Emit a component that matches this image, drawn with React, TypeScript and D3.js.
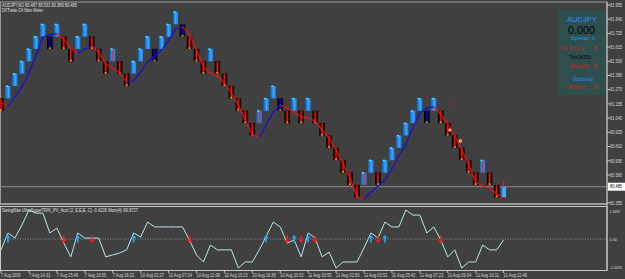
import React from "react";
import * as d3 from "d3";

const W = 625;
const H = 279;

const headerLine1 = "AUDJPY,M2  80.487 80.531 80.389 80.485";
const headerLine2 = "DXTrade C4 Nitro Meter";
const oscTitle = "SwingMan UltraSuperTRIX_PV_4col (2, E,E,E, C) -0.4226  Mom(4) 99.9727";

const priceTicks = ["81.955", "81.840", "81.725", "81.615", "81.500", "81.385", "81.270", "81.155", "81.040", "80.925", "80.810", "80.695", "80.580", "80.355"];
const currentPrice = 80.485;
const barHigh = 80.531;

const timeLabels = ["7 Aug 2009", "7 Aug 14:31", "7 Aug 15:46", "7 Aug 16:55", "7 Aug 19:22", "10 Aug 01:27", "10 Aug 07:24", "10 Aug 11:08", "10 Aug 15:23", "10 Aug 16:38", "10 Aug 20:52", "11 Aug 00:55", "11 Aug 02:50", "11 Aug 03:51", "11 Aug 05:42", "11 Aug 07:23", "11 Aug 09:04", "11 Aug 10:11", "11 Aug 11:46"];

// renko bricks: open / close prices and drawing kind
const brickOpen = [81.2, 81.2, 81.3, 81.4, 81.5, 81.6, 81.7, 81.7, 81.7, 81.7, 81.6, 81.6, 81.7, 81.7, 81.6, 81.5, 81.5, 81.5, 81.4, 81.4, 81.5, 81.6, 81.6, 81.6, 81.7, 81.8, 81.8, 81.7, 81.6, 81.5, 81.5, 81.5, 81.4, 81.3, 81.2, 81.1, 81.0, 81.0, 81.1, 81.2, 81.2, 81.1, 81.1, 81.1, 81.1, 81.1, 81.0, 80.9, 80.8, 80.7, 80.6, 80.5, 80.5, 80.6, 80.6, 80.6, 80.7, 80.8, 80.9, 81.0, 81.1, 81.1, 81.1, 81.1, 81.0, 80.9, 80.8, 80.7, 80.6, 80.6, 80.6, 80.5, 80.4];
const brickClose = [81.1, 81.3, 81.4, 81.5, 81.6, 81.7, 81.8, 81.6, 81.8, 81.6, 81.5, 81.7, 81.8, 81.6, 81.5, 81.4, 81.6, 81.4, 81.3, 81.5, 81.6, 81.7, 81.5, 81.7, 81.8, 81.9, 81.7, 81.6, 81.5, 81.4, 81.6, 81.4, 81.3, 81.2, 81.1, 81.0, 80.9, 81.1, 81.2, 81.3, 81.1, 81.0, 81.2, 81.0, 81.2, 81.0, 80.9, 80.8, 80.7, 80.6, 80.5, 80.4, 80.6, 80.7, 80.5, 80.7, 80.8, 80.9, 81.0, 81.1, 81.2, 81.0, 81.2, 81.0, 80.9, 80.8, 80.7, 80.6, 80.5, 80.7, 80.5, 80.4, 80.485];
const brickKind = ["d", "u", "u", "u", "u", "u", "u", "n", "u", "d", "d", "u", "u", "d", "d", "d", "r", "d", "d", "u", "u", "u", "n", "u", "u", "u", "n", "d", "d", "d", "u", "d", "d", "d", "d", "d", "d", "r", "u", "u", "n", "d", "u", "d", "u", "d", "d", "d", "d", "d", "d", "d", "r", "u", "d", "u", "u", "u", "u", "u", "u", "n", "u", "d", "d", "d", "d", "d", "d", "r", "d", "d", "c"];

const maValues = [81.162, 81.138, 81.211, 81.292, 81.405, 81.542, 81.696, 81.716, 81.722, 81.68, 81.607, 81.567, 81.599, 81.623, 81.575, 81.478, 81.445, 81.405, 81.332, 81.34, 81.413, 81.494, 81.542, 81.591, 81.664, 81.761, 81.777, 81.72, 81.591, 81.453, 81.405, 81.381, 81.324, 81.243, 81.146, 81.025, 80.903, 80.887, 80.984, 81.089, 81.146, 81.122, 81.089, 81.049, 81.041, 81.016, 80.944, 80.879, 80.782, 80.669, 80.555, 80.402, 80.385, 80.442, 80.491, 80.539, 80.628, 80.733, 80.83, 80.96, 81.081, 81.122, 81.13, 81.073, 80.992, 80.903, 80.782, 80.661, 80.523, 80.491, 80.474, 80.426, 80.394];

const oscValues = [-0.45, 0.25, 0.04, 0.58, 1.2, 1.07, 1.07, 0.25, 0.45, -0.17, -0.74, 0.25, 0.04, 0.04, 0.04, -0.74, -0.66, -0.58, -0.45, 0.25, 0.08, 0.7, 0.5, 0.5, 0.5, 0.5, 0.5, -0.04, -0.66, -0.95, -0.25, -0.45, -0.45, -0.45, -1.2, -0.95, -0.95, -0.45, 0.12, 0.7, 0.5, -0.17, -0.04, -0.74, 0.25, 0.04, -0.74, -0.54, -1.2, -0.95, -0.95, -0.95, -0.37, 0.25, 0.04, 0.7, 0.5, 0.5, 1.2, 0.99, 0.99, 0.25, 0.5, -0.04, -0.74, -0.45, -1.2, -0.95, -0.95, -0.25, -0.45, -0.45, -0.04];
const oscUpArrows = [1, 11, 19, 38, 42, 44, 53, 55];
const oscDownArrows = [9, 13, 27, 41, 43, 45, 54, 63];
const oscTickLabels = ["1.3487", "0.00", "-1.0581"];

const signalDot = { index: 64.3, price: 80.944 };
const signalSquare = { index: 65.8, price: 80.855 };
const signalDash = { index: 64.5, price: 81.154 };

const FONT = "'Liberation Sans', Arial, sans-serif";

export default function App() {
  const x = d3.scaleLinear().domain([0, 72]).range([1, 503.6]);
  const y = d3.scaleLinear().domain([80.355, 81.955]).range([202.8, 5]);
  const yo = d3.scaleLinear().domain([-1.2, 1.2]).range([268, 210]);

  const mainTop = 2, mainBottom = 204, oscTop = 206.5, oscBottom = 270.5, axisX = 607;

  const oscLine = d3.line<number>().x((_, i) => x(i)).y((d) => yo(d));

  const bricks = brickOpen.map((o, i) => {
    const c = brickClose[i];
    const k = brickKind[i];
    const cx = x(i);
    const top = y(Math.max(o, c));
    const bot = y(Math.min(o, c));
    const h = bot - top;
    if (k === "u" || k === "r" || k === "c") {
      return (
        <g key={i}>
          <rect x={cx - 2.5} y={top} width={5} height={h} fill={k === "c" ? "#3aa6ff" : "#1e8cf5"} />
          <rect x={cx - 2.5} y={top} width={1} height={h} fill="#1470c8" />
          <rect x={cx - 0.3} y={top} width={1.2} height={h} fill={k === "r" ? "#ff2020" : "#45a9ff"} />
          {k !== "c" && <rect x={cx - 2} y={top - 0.5} width={2} height={1.5} fill="#40f0ff" />}
        </g>
      );
    }
    const inner = k === "n" ? "#00006e" : "#6e0000";
    const line = k === "n" ? "#0a0ab8" : "#ff1a1a";
    return (
      <g key={i}>
        <rect x={cx - 2.8} y={top} width={5.6} height={h} fill="#000000" />
        <rect x={cx - 1.5} y={top + 0.5} width={3} height={h - 1} fill={inner} />
        <rect x={cx - 0.5} y={top} width={1} height={h} fill={line} />
        <rect x={cx - 1} y={bot - 1.5} width={2} height={1.5} fill="#ffa500" />
      </g>
    );
  });

  const maSegs = maValues.slice(1).map((v, j) => {
    const prev = maValues[j];
    const up = v >= prev;
    return (
      <line key={j} x1={x(j)} y1={y(prev)} x2={x(j + 1)} y2={y(v)} stroke={up ? "#1010e0" : "#f01010"} strokeWidth={1.2} strokeLinecap="round" />
    );
  });

  const upArrow = (i: number) => {
    const cx = x(i);
    const c = yo(0);
    return (
      <path key={"u" + i} d={`M${cx},${c - 4} L${cx + 2.5},${c - 1} L${cx + 0.8},${c - 1} L${cx + 0.8},${c + 3.5} L${cx - 0.8},${c + 3.5} L${cx - 0.8},${c - 1} L${cx - 2.5},${c - 1} Z`} fill="#1fa8ff" />
    );
  };
  const downArrow = (i: number) => {
    const cx = x(i);
    const c = yo(0);
    return (
      <path key={"d" + i} d={`M${cx},${c + 4} L${cx + 2.5},${c + 1} L${cx + 0.8},${c + 1} L${cx + 0.8},${c - 3.5} L${cx - 0.8},${c - 3.5} L${cx - 0.8},${c + 1} L${cx - 2.5},${c + 1} Z`} fill="#ff1a1a" />
    );
  };

  const lastI = brickOpen.length - 1;
  const oscTickY = [yo(1.2) + 1, yo(0), yo(-1.2) - 1];

  return (
    <svg width={W} height={H} style={{ position: "absolute", left: 0, top: 0, display: "block" }} fontFamily={FONT}>
      <rect x={0} y={0} width={W} height={H} fill="#404040" />

      {/* panel frames */}
      <rect x={0.5} y={mainTop} width={axisX - 0.5} height={mainBottom - mainTop} fill="none" stroke="#9a9a9a" strokeWidth={1} />
      <rect x={0.5} y={oscTop} width={axisX - 0.5} height={oscBottom - oscTop} fill="none" stroke="#c8c8c8" strokeWidth={1} />
      <line x1={0} x2={axisX} y1={mainBottom} y2={mainBottom} stroke="#c8c8c8" />

      {/* price axis */}
      {priceTicks.map((t) => (
        <g key={t}>
          <line x1={axisX} x2={axisX + 3} y1={y(+t)} y2={y(+t)} stroke="#c8c8c8" />
          <text x={610} y={y(+t)} dy="0.35em" fontSize={5} fill="#d8d8d8" textLength={12} lengthAdjust="spacingAndGlyphs">{t}</text>
        </g>
      ))}

      {/* current price line */}
      <line x1={0} x2={axisX} y1={y(currentPrice)} y2={y(currentPrice)} stroke="#8a8a8a" strokeWidth={1} />

      {/* info box */}
      <rect x={558} y={10} width={48} height={85} fill="#2f4f4f" />
      <text x={567} y={22} fontSize={8} fill="#1e90ff" textLength={30} lengthAdjust="spacingAndGlyphs">AUDJPY</text>
      <text x={568} y={34} fontSize={10} fill="#000000" textLength={27} lengthAdjust="spacingAndGlyphs">0.000</text>
      <text x={571} y={39.5} fontSize={5.5} fill="#1e90ff" textLength={24} lengthAdjust="spacingAndGlyphs">Spread: 0</text>
      <text x={560} y={50} fontSize={5.5} fill="#e01818" textLength={23} lengthAdjust="spacingAndGlyphs">Trix 3,1,1,1</text>
      <text x={594} y={50} fontSize={5.5} fill="#e01818">8</text>
      <text x={569} y={59} fontSize={5.5} fill="#000000" textLength={23} lengthAdjust="spacingAndGlyphs">Trix(M15):</text>
      <text x={570} y={67.5} fontSize={5.5} fill="#e01818" textLength={19} lengthAdjust="spacingAndGlyphs">Mom(4):</text>
      <text x={594} y={67.5} fontSize={5.5} fill="#e01818">8</text>
      <text x={573} y={80.5} fontSize={4.5} fill="#1e90ff" textLength={20} lengthAdjust="spacingAndGlyphs">(Optional)</text>
      <text x={568} y={88.5} fontSize={5.5} fill="#e01818" textLength={17} lengthAdjust="spacingAndGlyphs">ADX(12)</text>
      <text x={594} y={88.5} fontSize={5.5} fill="#e01818">8</text>

      {/* bricks */}
      {bricks}
      <line x1={x(lastI)} x2={x(lastI)} y1={y(currentPrice)} y2={y(barHigh)} stroke="#ff2020" strokeWidth={1} />

      {/* moving average */}
      {maSegs}

      {/* signals */}
      <circle cx={x(signalDot.index)} cy={y(signalDot.price)} r={1.6} fill="#ffffff" stroke="#ff2020" strokeWidth={0.8} />
      <rect x={x(signalSquare.index) - 1.5} y={y(signalSquare.price) - 1.5} width={3} height={3} fill="#ffb060" />
      <line x1={x(signalDash.index) - 2} x2={x(signalDash.index) + 2} y1={y(signalDash.price)} y2={y(signalDash.price)} stroke="#d01010" />

      {/* current price label */}
      <rect x={608} y={y(currentPrice) - 4} width={17} height={8} fill="#ffffff" />
      <text x={610} y={y(currentPrice)} dy="0.35em" fontSize={5} fill="#000000" textLength={12} lengthAdjust="spacingAndGlyphs">{currentPrice.toFixed(3)}</text>

      {/* header */}
      <text x={2} y={6.5} fontSize={5.5} fill="#e0e0e0" textLength={75} lengthAdjust="spacingAndGlyphs">{headerLine1}</text>
      <text x={2} y={12} fontSize={5.5} fill="#e0e0e0" textLength={41} lengthAdjust="spacingAndGlyphs">{headerLine2}</text>

      {/* oscillator */}
      <line x1={0} x2={axisX} y1={yo(0)} y2={yo(0)} stroke="#8a8a8a" strokeDasharray="1,1.5" />
      <path d={oscLine(oscValues) || ""} fill="none" stroke="#b2eaea" strokeWidth={1} />
      {oscUpArrows.map(upArrow)}
      {oscDownArrows.map(downArrow)}
      <text x={2} y={212} fontSize={5.5} fill="#e0e0e0" textLength={136} lengthAdjust="spacingAndGlyphs">{oscTitle}</text>
      {oscTickLabels.map((t, i) => (
        <text key={t} x={609.5} y={oscTickY[i]} dy="0.35em" fontSize={4.4} fill="#d8d8d8" textLength={t.length * 1.85} lengthAdjust="spacingAndGlyphs">{t}</text>
      ))}

      {/* right axis line */}
      <line x1={axisX} x2={axisX} y1={mainTop} y2={oscBottom} stroke="#c8c8c8" />

      {/* time axis */}
      {timeLabels.map((t, k) => {
        const tx = x(k * 4);
        return (
          <g key={t}>
            <line x1={tx} x2={tx} y1={oscBottom} y2={oscBottom + 2.5} stroke="#c8c8c8" />
            <text x={tx} y={276.5} fontSize={5} fill="#d8d8d8" textLength={t.length * 1.95} lengthAdjust="spacingAndGlyphs">{t}</text>
          </g>
        );
      })}
    </svg>
  );
}
